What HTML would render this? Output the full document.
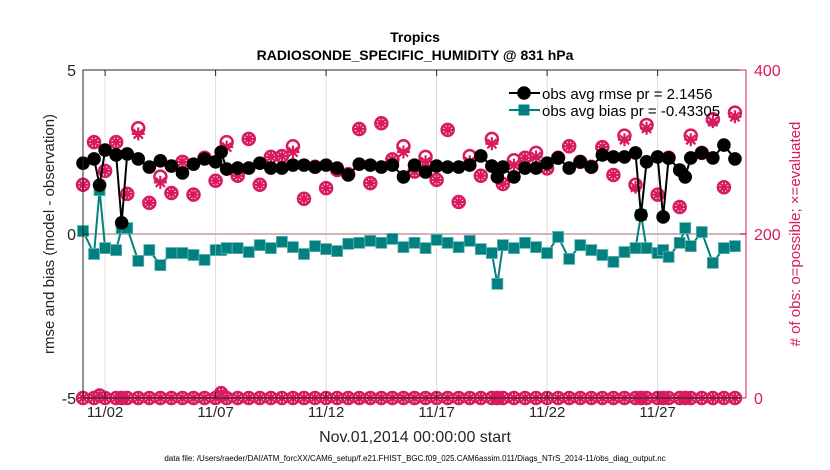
<!DOCTYPE html>
<html><head><meta charset="utf-8"><style>
html,body{margin:0;padding:0;background:#fff;}
svg{display:block;font-family:"Liberation Sans",Arial,sans-serif;}
</style></head><body>
<svg id="chart" width="830" height="470" viewBox="0 0 830 470"></svg>
<script>
const days = [0,0.5,0.75,1,1.5,1.75,2,2.5,3,3.5,4,4.5,5,5.5,6,6.25,6.5,7,7.5,8,8.5,9,9.5,10,10.5,11,11.5,12,12.5,13,13.5,14,14.5,15,15.5,16,16.5,17,17.5,18,18.5,18.75,19,19.5,20,20.5,21,21.5,22,22.5,23,23.5,24,24.5,25,25.25,25.5,26,26.25,26.5,27,27.25,27.5,28,28.5,29,29.5];
const rmse = [2.16,2.29,1.49,2.56,2.41,0.34,2.44,2.29,2.04,2.23,2.07,1.86,2.13,2.29,2.20,2.50,1.98,2.01,2.01,2.16,2.01,2.01,2.10,2.10,2.04,2.10,2.01,1.80,2.13,2.10,2.04,2.10,1.74,2.10,1.89,2.07,2.04,2.04,2.10,2.38,2.07,1.74,2.04,1.74,2.01,2.01,2.16,2.32,2.01,2.20,2.04,2.41,2.35,2.35,2.47,0.58,2.20,2.35,0.52,2.32,1.95,1.74,2.32,2.47,2.32,2.71,2.29];
const bias = [0.09,-0.61,1.34,-0.43,-0.49,0.18,0.18,-0.82,-0.49,-0.95,-0.58,-0.58,-0.64,-0.79,-0.49,-0.49,-0.43,-0.43,-0.55,-0.34,-0.43,-0.24,-0.40,-0.61,-0.37,-0.46,-0.52,-0.30,-0.27,-0.21,-0.27,-0.15,-0.40,-0.27,-0.43,-0.18,-0.27,-0.40,-0.21,-0.46,-0.58,-1.52,-0.34,-0.43,-0.27,-0.40,-0.58,-0.09,-0.76,-0.34,-0.49,-0.64,-0.85,-0.55,-0.43,0.58,-0.43,-0.58,-0.49,-0.70,-0.27,0.18,-0.37,0.06,-0.88,-0.43,-0.37];
const possible = [260,312,null,277,312,null,249,329,238,270,250,288,248,293,265,null,312,271,316,260,294,295,307,243,282,256,278,273,328,262,335,291,307,276,294,266,327,239,295,271,316,null,261,290,293,299,280,293,307,288,282,306,272,320,260,null,333,248,null,293,233,null,320,299,340,257,348];
const evaluated = [260,312,null,277,312,null,249,322,238,263,250,288,248,293,265,null,306,271,316,260,294,295,300,243,282,256,278,273,328,262,335,291,300,276,288,266,327,239,288,271,310,null,261,284,293,294,280,293,307,288,282,306,272,315,257,null,329,248,null,293,233,null,315,299,337,257,343];
const possiblePo = [0,0,3,0,0,0,0,0,0,0,0,0,0,0,0,6,0,0,0,0,0,0,0,0,0,0,0,0,0,0,0,0,0,0,0,0,0,0,0,0,0,0,0,0,0,0,0,0,0,0,0,0,0,0,0,0,0,0,0,0,0,0,0,0,0,0,0];
const xTickDays = [1,6,11,16,21,26];
const xTickLabels = ["11/02","11/07","11/12","11/17","11/22","11/27"];
const yTicks = [-5,0,5];
const y2Ticks = [0,200,400];

const NS="http://www.w3.org/2000/svg";
const svg=document.getElementById('chart');
const L=83,R=746,T=70,B=398;
const xS=d=>L+(d/30)*(R-L);
const yS=v=>T+(5-v)/10*(B-T);
const y2S=c=>T+(400-c)/400*(B-T);
const PINK="#d81b60",TEAL="#00807f";
function mk(tag,attrs,parent){const e=document.createElementNS(NS,tag);for(const k in attrs)e.setAttribute(k,attrs[k]);(parent||svg).appendChild(e);return e;}

xTickDays.forEach((d,i)=>{
  const g=mk('line',{x1:xS(d),x2:xS(d),y1:T,y2:B,stroke:'#dcdcdc','stroke-width':1});
  
  
});
const zl=mk('line',{x1:L,x2:R,y1:y2S(200),y2:y2S(200),stroke:'#d4b4bc','stroke-width':2});



function countMarker(x,y,g){
  return mk('circle',{cx:x,cy:y,r:6,fill:'none',stroke:PINK,'stroke-width':2.5},g);
}
function astMarker(x,y,g){
  let d='';
  for(let k=0;k<4;k++){const a=k*Math.PI/4;const dx=6.5*Math.cos(a),dy=6.5*Math.sin(a);d+=`M${x-dx},${y-dy}L${x+dx},${y+dy}`;}
  mk('path',{d:d,stroke:PINK,'stroke-width':2.2,fill:'none'},g);
}
const gCnt=mk('g',{});


days.forEach((d,i)=>{
  const x=xS(d);
  if(possible[i]!==null){const m=countMarker(x,y2S(possible[i]),gCnt);}
  if(evaluated[i]!==null){astMarker(x,y2S(evaluated[i]),gCnt);}
  if(possiblePo[i]!==null){const m=countMarker(x,y2S(possiblePo[i]),gCnt);astMarker(x,y2S(possiblePo[i]),gCnt);}
});

const gB=mk('g',{});


mk('polyline',{points:days.map((d,i)=>xS(d)+','+yS(bias[i])).join(' '),fill:'none',stroke:TEAL,'stroke-width':2},gB);
days.forEach((d,i)=>{
  const r=mk('rect',{x:xS(d)-5.5,y:yS(bias[i])-5.5,width:11,height:11,fill:TEAL,stroke:'#5fb3b0','stroke-width':0.8},gB);
  
  
});
const gR=mk('g',{});


mk('polyline',{points:days.map((d,i)=>xS(d)+','+yS(rmse[i])).join(' '),fill:'none',stroke:'#000','stroke-width':2},gR);
days.forEach((d,i)=>{
  const c=mk('circle',{cx:xS(d),cy:yS(rmse[i]),r:6.8,fill:'#000'},gR);
  
  
});

const ax=mk('path',{d:`M${L},${B}L${L},${T}L${R},${T}`,fill:'none',stroke:'#262626','stroke-width':1});


const bx=mk('line',{x1:L,x2:R,y1:B,y2:B,stroke:'#262626','stroke-width':1});


const ry=mk('line',{x1:R,x2:R,y1:T,y2:B,stroke:PINK,'stroke-width':1});



xTickDays.forEach((d,i)=>{
  mk('line',{x1:xS(d),x2:xS(d),y1:B,y2:B-6,stroke:'#262626'});
  mk('line',{x1:xS(d),x2:xS(d),y1:T,y2:T+6,stroke:'#262626'});
  const t=mk('text',{x:xS(d),y:B+19,'text-anchor':'middle','font-size':15,fill:'#262626'});
  t.textContent=xTickLabels[i];
  
  
});
yTicks.forEach(v=>{
  mk('line',{x1:L,x2:L+6,y1:yS(v),y2:yS(v),stroke:'#262626'});
  const t=mk('text',{x:L-7,y:yS(v)+6,'text-anchor':'end','font-size':16,fill:'#262626'});
  t.textContent=String(v);
  
  
});
y2Ticks.forEach(v=>{
  mk('line',{x1:R,x2:R-6,y1:y2S(v),y2:y2S(v),stroke:PINK});
  const t=mk('text',{x:R+8,y:y2S(v)+6,'text-anchor':'start','font-size':16,fill:PINK});
  t.textContent=String(v);
  
  
});
</script>
<div style="position:absolute;left:0;top:0;width:830px;height:470px;pointer-events:none;">
<svg width="830" height="470" style="position:absolute;left:0;top:0;font-family:'Liberation Sans',Arial,sans-serif;">
<text x="415" y="42" text-anchor="middle" font-size="14" font-weight="bold" fill="#000">Tropics</text>
<text x="415" y="60" text-anchor="middle" font-size="14" font-weight="bold" fill="#000">RADIOSONDE_SPECIFIC_HUMIDITY @ 831 hPa</text>
<text transform="translate(54,234) rotate(-90)" text-anchor="middle" font-size="15" fill="#262626">rmse and bias (model - observation)</text>
<text transform="translate(800,234) rotate(-90)" text-anchor="middle" font-size="15" fill="#d81b60"># of obs: o=possible; ×=evaluated</text>
<text x="415" y="442" text-anchor="middle" font-size="16" fill="#262626">Nov.01,2014 00:00:00 start</text>
<text x="415" y="461" text-anchor="middle" font-size="8" fill="#000">data file: /Users/raeder/DAI/ATM_forcXX/CAM6_setup/f.e21.FHIST_BGC.f09_025.CAM6assim.011/Diags_NTrS_2014-11/obs_diag_output.nc</text>
<g>
<line x1="509" x2="540" y1="93" y2="93" stroke="#000" stroke-width="2"/>
<circle cx="524" cy="93" r="6.8" fill="#000"/>
<text x="542" y="99" font-size="15" fill="#000">obs avg rmse pr = 2.1456</text>
<line x1="509" x2="540" y1="110" y2="110" stroke="#00807f" stroke-width="2"/>
<rect x="518.5" y="104.5" width="11" height="11" fill="#00807f"/>
<text x="542" y="116" font-size="15" fill="#000">obs avg bias pr = -0.43305</text>
</g>
</svg>
</div>
</body></html>
